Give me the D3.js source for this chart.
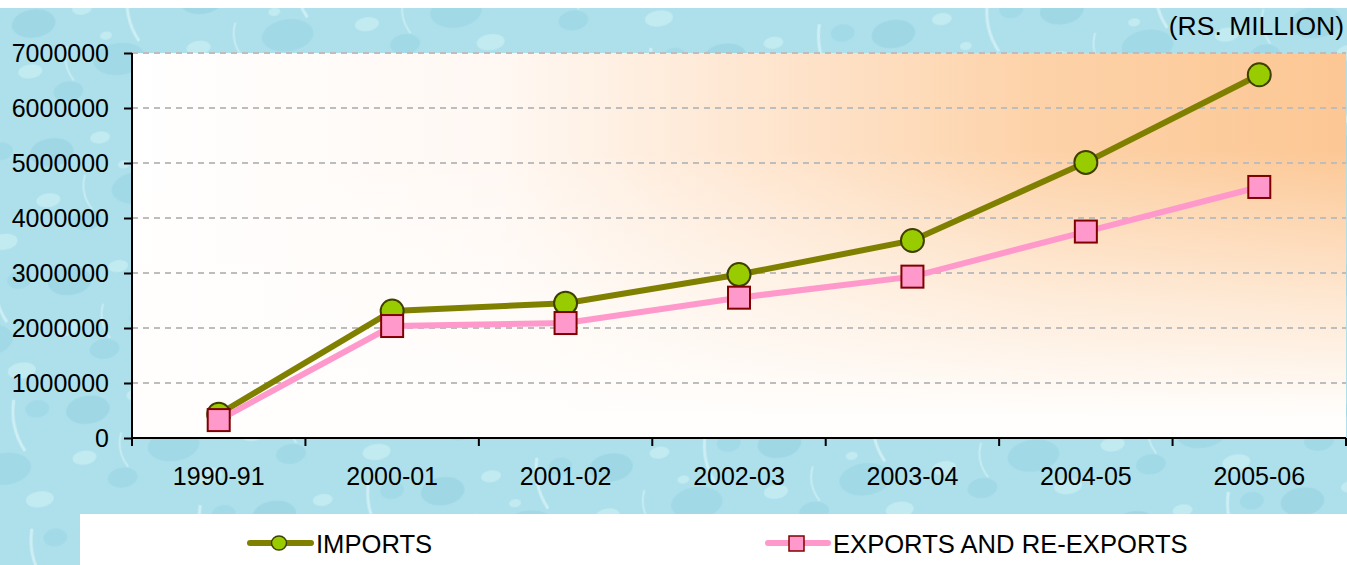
<!DOCTYPE html>
<html>
<head>
<meta charset="utf-8">
<script src="https://cdn.jsdelivr.net/npm/d3@7"></script>
<style>
  html, body { margin: 0; padding: 0; background: #fff; }
  svg { display: block; font-family: "Liberation Sans", Arial, sans-serif; }
</style>
</head>
<body>
<svg width="1347" height="565"></svg>
<script>
// data (Rs. million)
const years = ["1990-91", "2000-01", "2001-02", "2002-03", "2003-04", "2004-05", "2005-06"];
const imports = [431980, 2308725, 2452000, 2972060, 3591080, 5010650, 6604090];
const exportsRe = [325530, 2035710, 2090180, 2551370, 2933670, 3753400, 4564180];
const yTicks = [0, 1000000, 2000000, 3000000, 4000000, 5000000, 6000000, 7000000];

const W = 1347, H = 565;
const FS = 25;
const margin = { top: 53, right: 1, bottom: 127, left: 132 };

let svg = d3.select("svg");
let defs = svg.append("defs");

// watery background, rough stand-in for the texture
let pat = defs.append("pattern")
    .attr("id", "water")
    .attr("patternUnits", "userSpaceOnUse")
    .attr("width", 170).attr("height", 130)
    .attr("patternTransform", "rotate(-8)");
pat.append("rect").attr("width", 170).attr("height", 130).attr("fill", "#ade0eb");
[[30, 28, 22, 14, "#93d0e0"], [110, 75, 26, 16, "#97d3e2"], [150, 20, 12, 9, "#9ad4e3"], [55, 100, 15, 10, "#96d2e2"]]
    .forEach(b => pat.append("ellipse").attr("cx", b[0]).attr("cy", b[1]).attr("rx", b[2]).attr("ry", b[3]).attr("fill", b[4]).attr("opacity", 0.55));
[[80, 20, 10, 6], [20, 75, 12, 7], [140, 110, 14, 8], [100, 50, 6, 4]]
    .forEach(b => pat.append("ellipse").attr("cx", b[0]).attr("cy", b[1]).attr("rx", b[2]).attr("ry", b[3]).attr("fill", "#d8f3f8").attr("opacity", 0.5));
pat.append("path").attr("d", "M128,8 Q120,35 132,60").attr("stroke", "#e2f6fa").attr("stroke-width", 3).attr("fill", "none").attr("opacity", 0.6);
pat.append("path").attr("d", "M60,55 Q52,72 62,90").attr("stroke", "#e2f6fa").attr("stroke-width", 2).attr("fill", "none").attr("opacity", 0.5);

let hgrad = defs.append("linearGradient").attr("id", "plotH").attr("x1", "0%").attr("x2", "100%").attr("y1", "0%").attr("y2", "0%");
[["0%", "#ffffff"], ["30%", "#fff8f3"], ["55%", "#fee3ca"], ["75%", "#fdd2a8"], ["100%", "#fcc794"]]
    .forEach(s => hgrad.append("stop").attr("offset", s[0]).attr("stop-color", s[1]));
let vgrad = defs.append("linearGradient").attr("id", "plotV").attr("x1", "0%").attr("x2", "0%").attr("y1", "0%").attr("y2", "100%");
[["0%", 0], ["25%", 0], ["65%", 0.6], ["95%", 1], ["100%", 1]]
    .forEach(s => vgrad.append("stop").attr("offset", s[0]).attr("stop-color", "#fffefd").attr("stop-opacity", s[1]));

svg.append("rect").attr("x", 0).attr("y", 8).attr("width", W).attr("height", H - 8).attr("fill", "url(#water)");

let x = d3.scaleBand().domain(years).range([margin.left, W - margin.right]).padding(0);
let y = d3.scaleLinear().domain([0, 7000000]).range([H - margin.bottom, margin.top]);

// plot area
["url(#plotH)", "url(#plotV)"].forEach(f => svg.append("rect")
    .attr("x", x.range()[0]).attr("y", y(7000000))
    .attr("width", x.range()[1] - x.range()[0]).attr("height", y(0) - y(7000000))
    .attr("fill", f));

// gridlines
svg.append("g")
    .selectAll("line")
    .data(yTicks.filter(d => d > 0))
    .join("line")
    .attr("x1", x.range()[0]).attr("x2", x.range()[1])
    .attr("y1", d => y(d)).attr("y2", d => y(d))
    .attr("stroke", "#bdbdbd").attr("stroke-width", 2)
    .attr("stroke-dasharray", "6,5");

// y axis
let yAxis = svg.append("g")
    .attr("transform", "translate(" + margin.left + ",0)")
    .call(d3.axisLeft(y).tickValues(yTicks).tickFormat(d3.format("d")).tickSize(8).tickPadding(15));
yAxis.select(".domain").attr("stroke", "#000").attr("stroke-width", 2).attr("d", "M0," + y(7000000) + "V" + y(0));
yAxis.selectAll(".tick line").attr("stroke", "#000").attr("stroke-width", 2);
yAxis.selectAll("text").attr("font-size", FS).attr("fill", "#000").attr("font-family", "Liberation Sans, Arial, sans-serif");

// x axis
let xAxis = svg.append("g")
    .attr("transform", "translate(0," + y(0) + ")")
    .call(d3.axisBottom(x).tickSize(0).tickPadding(29));
xAxis.select(".domain").attr("stroke", "#000").attr("stroke-width", 2).attr("d", "M" + x.range()[0] + ",0H" + x.range()[1]);
xAxis.selectAll("text").attr("font-size", FS).attr("fill", "#000").attr("font-family", "Liberation Sans, Arial, sans-serif");
xAxis.selectAll("line.bound")
    .data(years.map(d => x(d)).concat([x.range()[1]]))
    .join("line")
    .attr("class", "bound")
    .attr("x1", d => d).attr("x2", d => d)
    .attr("y1", 0).attr("y2", 8)
    .attr("stroke", "#000").attr("stroke-width", 2);

svg.append("text")
    .attr("x", W - 3).attr("y", 35)
    .attr("text-anchor", "end")
    .attr("font-size", 26.5)
    .text("(RS. MILLION)");

let cx = d => x(d) + x.bandwidth() / 2;
let line = d3.line().x(d => cx(d.year)).y(d => y(d.value));

let impData = years.map((yr, i) => ({ year: yr, value: imports[i] }));
let expData = years.map((yr, i) => ({ year: yr, value: exportsRe[i] }));

svg.append("path").datum(impData).attr("d", line)
    .attr("fill", "none").attr("stroke", "#808000").attr("stroke-width", 6);
svg.append("g").selectAll("circle").data(impData).join("circle")
    .attr("cx", d => cx(d.year)).attr("cy", d => y(d.value)).attr("r", 11.5)
    .attr("fill", "#99cc00").attr("stroke", "#3f3f00").attr("stroke-width", 2);

svg.append("path").datum(expData).attr("d", line)
    .attr("fill", "none").attr("stroke", "#ff99cc").attr("stroke-width", 6);
svg.append("g").selectAll("rect").data(expData).join("rect")
    .attr("x", d => cx(d.year) - 11).attr("y", d => y(d.value) - 11)
    .attr("width", 22).attr("height", 22)
    .attr("fill", "#ff99cc").attr("stroke", "#800000").attr("stroke-width", 2);

// legend
svg.append("rect").attr("x", 80).attr("y", 514).attr("width", W - 80).attr("height", H - 514).attr("fill", "#fff");
let lg = svg.append("g").attr("font-size", 25.6);
lg.append("line").attr("x1", 250).attr("x2", 311).attr("y1", 543).attr("y2", 543)
    .attr("stroke", "#808000").attr("stroke-width", 6).attr("stroke-linecap", "round");
lg.append("ellipse").attr("cx", 279).attr("cy", 543).attr("rx", 7.5).attr("ry", 7)
    .attr("fill", "#99cc00").attr("stroke", "#3f3f00").attr("stroke-width", 1.5);
lg.append("text").attr("x", 316).attr("y", 553).text("IMPORTS");
lg.append("line").attr("x1", 768).attr("x2", 828).attr("y1", 543).attr("y2", 543)
    .attr("stroke", "#ff99cc").attr("stroke-width", 6).attr("stroke-linecap", "round");
lg.append("rect").attr("x", 789).attr("y", 536).attr("width", 15).attr("height", 15)
    .attr("fill", "#ff99cc").attr("stroke", "#800000").attr("stroke-width", 1.5);
lg.append("text").attr("x", 833).attr("y", 553).text("EXPORTS AND RE-EXPORTS");
</script>
</body>
</html>
